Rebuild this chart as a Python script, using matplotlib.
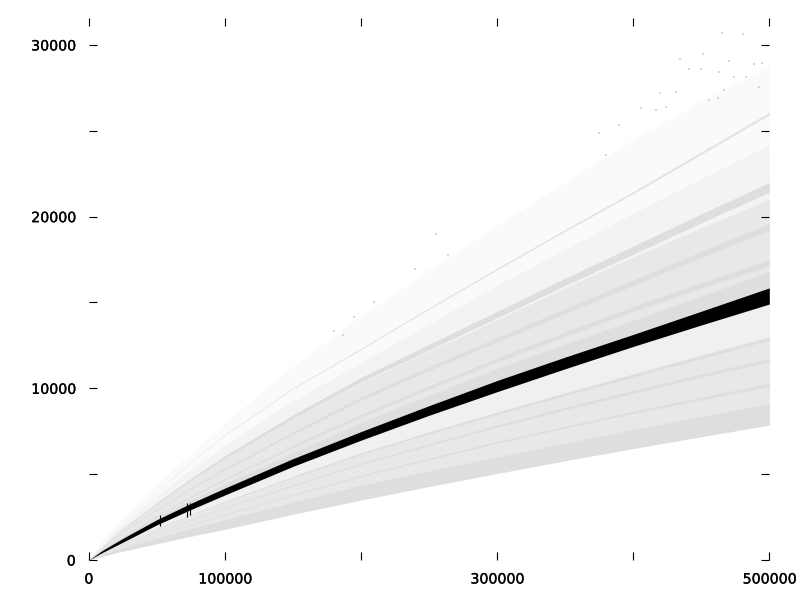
import numpy as np
import matplotlib
matplotlib.use("Agg")
import matplotlib.pyplot as plt
import matplotlib.patheffects as pe

# values, all curves share the x knots
x_knots = np.array([0, 10000, 25000, 50000, 75000, 100000, 150000, 200000,
                    250000, 300000, 350000, 400000, 450000, 500000])

lower_edge = np.array([0, 230, 520, 960, 1390, 1800, 2670, 3500, 4290, 5050, 5790, 6500, 7190, 7870])
solid_low = np.array([0, 310, 720, 1280, 1830, 2350, 3370, 4350, 5190, 6000, 6810, 7600, 8360, 9100])
ridge_low_a = np.array([0, 350, 780, 1430, 2050, 2650, 3790, 4900, 5890, 6850, 7740, 8600, 9410, 10200])
ridge_low_b = np.array([0, 400, 900, 1650, 2360, 3050, 4350, 5600, 6720, 7800, 8820, 9800, 10740, 11650])
mid_low = np.array([0, 430, 1000, 1850, 2630, 3400, 4830, 6200, 7400, 8550, 9660, 10750, 11830, 12900])
black_bot = np.array([0, 440, 1040, 2050, 2940, 3790, 5455, 6980, 8430, 9805, 11140, 12440, 13690, 14910])
black_top = np.array([0, 560, 1260, 2350, 3300, 4190, 5905, 7480, 8990, 10455, 11820, 13140, 14490, 15850])
solid_top = np.array([0, 600, 1350, 2500, 3500, 4450, 6250, 8000, 9600, 11150, 12580, 13950, 15380, 16800])
ridge_4 = np.array([0, 620, 1400, 2600, 3680, 4700, 6620, 8400, 10050, 11650, 13160, 14620, 16000, 17300])
ridge_3 = np.array([0, 700, 1600, 2950, 4160, 5300, 7400, 9400, 11150, 12830, 14500, 16150, 17800, 19400])
ridge_2 = np.array([0, 780, 1800, 3300, 4700, 6000, 8350, 10500, 12400, 14300, 16200, 18050, 19900, 21700])
ridge_1 = np.array([0, 1000, 2250, 4000, 5700, 7300, 10000, 12300, 14650, 16950, 19200, 21400, 23700, 26000])
dense_top = np.array([0, 800, 1850, 3300, 4700, 6000, 8250, 10300, 12150, 14000, 15850, 17650, 19350, 21000])
mid_top = np.array([0, 900, 2100, 3750, 5250, 6700, 9250, 11500, 13750, 16000, 18100, 20200, 22200, 24200])
outer_top = np.array([0, 1150, 2500, 4400, 6250, 8000, 11300, 14200, 16900, 19500, 22000, 24500, 26700, 28800])

# single stray points at the top of the fan
stray_x = [465200, 480400, 451000, 434700, 470600, 489000, 440700, 463300, 449800, 494900,
           420000, 431400, 405700, 416700, 389800, 424000, 455900, 462000, 467000, 474000,
           483000, 492700, 380000, 375000, 255000, 263600, 240000, 195000, 180400, 209800,
           186500]
stray_y = [30680, 30620, 29450, 29160, 29080, 28870, 28580, 28440, 28580, 28930,
           27180, 27280, 26310, 26210, 25340, 26400, 26790, 26900, 27380, 28160,
           28160, 27570, 23590, 24870, 18970, 17760, 16930, 14140, 13360, 15050,
           13100]

# little spikes on the black band
spike_x = [52000, 72000, 74000]
spike_low = [2000, 2500, 2650]
spike_high = [2600, 3300, 3300]

x_ticks = [0, 100000, 200000, 300000, 400000, 500000]
x_labels = ["0", "100000", "", "300000", "", "500000"]
y_ticks = [0, 5000, 10000, 15000, 20000, 25000, 30000]
y_labels = ["0", "", "10000", "", "20000", "", "30000"]

GRAY = "#dedede"

fig = plt.figure(figsize=(8, 6), dpi=100)
ax = fig.add_axes([88.8 / 800, 40 / 600, 680.5 / 800, 542 / 600])


def band(low, high, color, zorder=2):
    ax.fill_between(x_knots, low, high, color=color, linewidth=0, zorder=zorder)


# speckled parts of the fan, lighter where the points are sparser
band(lower_edge, outer_top, "#fafafa", 1)
band(lower_edge, mid_top, "#f3f3f3", 1)
band(lower_edge, dense_top, "#e8e8e8", 1)
band(mid_low, black_bot, "#f0f0f0", 2)
band(solid_low, mid_low, "#e8e8e8", 2)

# solid parts
band(lower_edge, solid_low, GRAY, 3)
band(black_top, solid_top, GRAY, 3)

# ridges
band(ridge_1 * 0.997, ridge_1 * 1.003, "#e4e4e4", 3)
band(ridge_2 * 0.987, ridge_2 * 1.013, GRAY, 3)
band(ridge_3 * 0.99, ridge_3 * 1.01, GRAY, 3)
band(ridge_4 * 0.99, ridge_4 * 1.01, GRAY, 3)
band(mid_low * 0.992, mid_low * 1.008, GRAY, 3)
band(ridge_low_b * 0.992, ridge_low_b * 1.008, GRAY, 3)
band(ridge_low_a * 0.992, ridge_low_a * 1.008, GRAY, 3)

ax.scatter(stray_x, stray_y, s=1.2, marker="s", color="#d6d6d6", linewidths=0, zorder=2)

band(black_bot, black_top, "black", 4)
ax.vlines(spike_x, spike_low, spike_high, color="black", linewidth=0.8, zorder=4)

ax.set_xlim(0, 500000)
ax.set_ylim(0, 31570)
ax.set_xticks(x_ticks)
ax.set_xticklabels(x_labels)
ax.set_yticks(y_ticks)
ax.set_yticklabels(y_labels)
for spine in ax.spines.values():
    spine.set_visible(False)
ax.tick_params(axis="x", direction="in", length=5.5, width=0.8, top=True, pad=9, labelsize=10.2)
ax.tick_params(axis="y", direction="in", length=5.5, width=0.8, right=True, pad=9.5, labelsize=10.2)

# labels in the reference are heavier than plain antialiased text
for label in ax.get_xticklabels() + ax.get_yticklabels():
    label.set_path_effects([pe.withStroke(linewidth=0.2, foreground="black")])

fig.savefig("out.png", dpi=100)
